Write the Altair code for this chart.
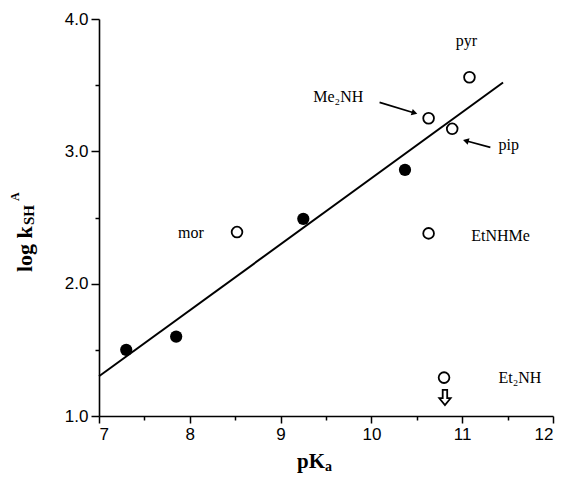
import altair as alt
import pandas as pd

# ---- data ----
filled_x = [7.30, 7.85, 9.25, 10.37]
filled_y = [1.50, 1.60, 2.49, 2.86]

open_names = ["mor", "Me₂NH", "pip", "pyr", "EtNHMe", "Et₂NH"]
open_x = [8.52, 10.63, 10.89, 11.08, 10.63, 10.80]
open_y = [2.39, 3.25, 3.17, 3.56, 2.38, 1.29]

fit_x = [7.0, 11.45]
fit_y = [1.30, 3.52]

label_text = ["pyr", "Me₂NH", "pip", "mor", "EtNHMe", "Et₂NH"]
label_x = [10.93, 9.36, 11.40, 7.87, 11.10, 11.40]
label_y = [3.83, 3.41, 3.05, 2.38, 2.36, 1.29]

arrow_x = [10.09, 11.31]
arrow_y = [3.37, 3.03]
arrow_x2 = [10.475, 11.04]
arrow_y2 = [3.29, 3.08]
arrow_shape = ["triangle-right", "triangle-left"]
arrow_angle = [17, 16]

down_x = [10.81]
down_y = [1.14]

x_ticks = [7, 7.5, 8, 8.5, 9, 9.5, 10, 10.5, 11, 11.5, 12]
y_ticks = [1.0, 1.5, 2.0, 2.5, 3.0, 3.5, 4.0]

# ---- scales ----
xs = alt.Scale(domain=[7, 12], nice=False, zero=False)
ys = alt.Scale(domain=[1, 4], nice=False, zero=False)

xaxis = alt.Axis(
    values=x_ticks,
    labelExpr="datum.value % 1 === 0 ? format(datum.value, 'd') : ''",
    tickSize=alt.condition("datum.value % 1 === 0", alt.value(7), alt.value(4)),
    title=None, grid=False,
)
yaxis = alt.Axis(
    values=y_ticks,
    labelExpr="datum.value % 1 === 0 ? format(datum.value, '.1f') : ''",
    tickSize=alt.condition("datum.value % 1 === 0", alt.value(8), alt.value(4)),
    title=None, grid=False,
)

fit_df = pd.DataFrame({"x": fit_x, "y": fit_y})
filled_df = pd.DataFrame({"x": filled_x, "y": filled_y})
open_df = pd.DataFrame({"name": open_names, "x": open_x, "y": open_y})
label_df = pd.DataFrame({"t": label_text, "x": label_x, "y": label_y})
arrow_df = pd.DataFrame({"x": arrow_x, "y": arrow_y, "x2": arrow_x2, "y2": arrow_y2,
                         "shape": arrow_shape, "angle": arrow_angle})
down_df = pd.DataFrame({"x": down_x, "y": down_y})

line = alt.Chart(fit_df).mark_line(color="black", strokeWidth=2).encode(
    x=alt.X("x:Q", scale=xs, axis=xaxis),
    y=alt.Y("y:Q", scale=ys, axis=yaxis),
)

filled = alt.Chart(filled_df).mark_point(
    filled=True, color="black", size=150, opacity=1
).encode(x=alt.X("x:Q", scale=xs), y=alt.Y("y:Q", scale=ys))

opened = alt.Chart(open_df).mark_point(
    filled=False, color="black", size=115, strokeWidth=1.8, opacity=1
).encode(x=alt.X("x:Q", scale=xs), y=alt.Y("y:Q", scale=ys))

labels = alt.Chart(label_df).mark_text(
    align="left", baseline="middle", font="Liberation Serif", fontSize=16, color="black"
).encode(x=alt.X("x:Q", scale=xs), y=alt.Y("y:Q", scale=ys), text="t:N")

arrow_lines = alt.Chart(arrow_df).mark_rule(color="black", strokeWidth=1.6).encode(
    x=alt.X("x:Q", scale=xs), y=alt.Y("y:Q", scale=ys), x2="x2:Q", y2="y2:Q"
)

heads = alt.Chart(arrow_df).mark_point(
    filled=True, color="black", size=45, opacity=1
).encode(
    x=alt.X("x2:Q", scale=xs), y=alt.Y("y2:Q", scale=ys),
    shape=alt.Shape("shape:N", scale=None), angle=alt.Angle("angle:Q", scale=None),
)

down = alt.Chart(down_df).mark_point(
    shape="M -0.3 -1 L 0.3 -1 L 0.3 0.1 L 0.75 0.1 L 0 1 L -0.75 0.1 L -0.3 0.1 Z",
    filled=False, color="black", size=225, strokeWidth=1.8, opacity=1,
).encode(x=alt.X("x:Q", scale=xs), y=alt.Y("y:Q", scale=ys))

one = pd.DataFrame({"k": [0]})
tfont = "Liberation Serif"
ytitle_main = alt.Chart(one).mark_text(
    text="log k", angle=270, align="left", baseline="alphabetic",
    font=tfont, fontWeight="bold", fontSize=22, color="black"
).encode(x=alt.value(-67), y=alt.value(253))
ytitle_sub = alt.Chart(one).mark_text(
    text="SH", angle=270, align="left", baseline="alphabetic",
    font=tfont, fontWeight="bold", fontSize=15, color="black"
).encode(x=alt.value(-65), y=alt.value(206))
ytitle_sup = alt.Chart(one).mark_text(
    text="A", angle=270, align="left", baseline="alphabetic",
    font=tfont, fontWeight="bold", fontSize=12, color="black"
).encode(x=alt.value(-80), y=alt.value(182))

xtitle_main = alt.Chart(one).mark_text(
    text="pK", align="left", baseline="alphabetic",
    font=tfont, fontWeight="bold", fontSize=21, color="black"
).encode(x=alt.value(198), y=alt.value(449))
xtitle_sub = alt.Chart(one).mark_text(
    text="a", align="left", baseline="alphabetic",
    font=tfont, fontWeight="bold", fontSize=14, color="black"
).encode(x=alt.value(226), y=alt.value(452))

chart = alt.layer(
    line, filled, opened, labels, arrow_lines, heads, down,
    ytitle_main, ytitle_sub, ytitle_sup, xtitle_main, xtitle_sub,
).properties(
    width=454, height=397,
    padding={"left": 91, "top": 11, "right": 9, "bottom": 58},
    autosize=alt.AutoSizeParams(type="none"),
).configure_view(stroke=None).configure_axis(
    domainColor="black", domainWidth=1.6, tickColor="black", tickWidth=1.5,
    labelFont="Liberation Sans", labelFontSize=17, labelColor="black", labelPadding=3,
)

chart.save("out.html", embed_options={"renderer": "svg", "actions": False})
